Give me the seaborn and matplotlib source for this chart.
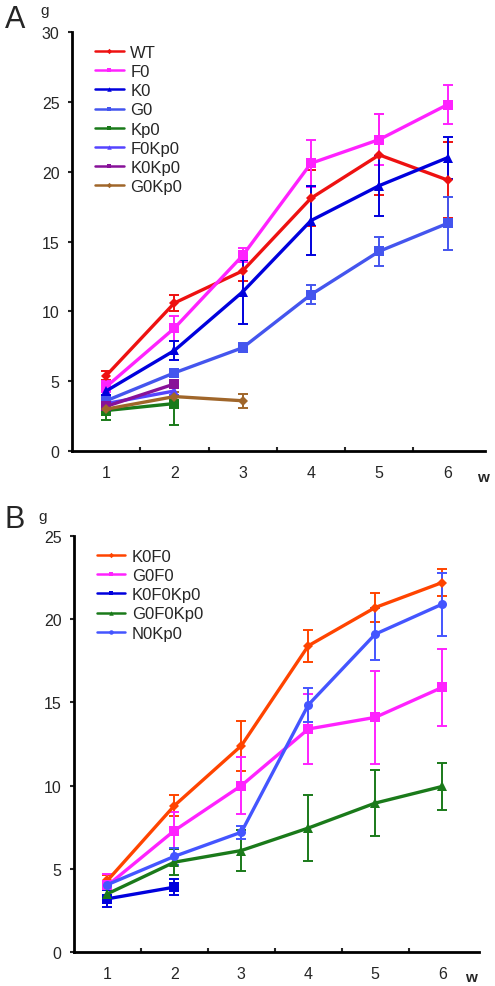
import seaborn as sns
import matplotlib.pyplot as plt
from matplotlib.ticker import MultipleLocator, FixedLocator
import pandas as pd

weeks = [1, 2, 3, 4, 5, 6]

# panel A: body weight (g) per week
a_names = ['WT', 'F0', 'K0', 'G0', 'Kp0', 'F0Kp0', 'K0Kp0', 'G0Kp0']
a_means = [
    [5.4, 10.6, 12.9, 18.1, 21.2, 19.4],
    [4.6, 8.8, 14.0, 20.6, 22.3, 24.8],
    [4.3, 7.2, 11.4, 16.5, 19.0, 21.0],
    [3.6, 5.6, 7.4, 11.2, 14.3, 16.3],
    [2.9, 3.4],
    [3.4, 4.3],
    [3.2, 4.8],
    [3.0, 3.9, 3.6],
]
a_errs = [
    [0.3, 0.6, 0.7, 2.0, 2.9, 2.7],
    [0.4, 0.9, 0.5, 1.7, 1.8, 1.4],
    [0.3, 0.7, 2.3, 2.45, 2.15, 1.5],
    [0.3, 0.3, 0.3, 0.7, 1.05, 1.9],
    [0.65, 1.55],
    [0.2, 0.3],
    [0.3, 0.3],
    [0.2, 0.3, 0.5],
]
a_colors = ['#ee1111', '#ff22ff', '#0000dd', '#4455ee', '#1a7a1a', '#5544ff', '#881199', '#a0662a']
a_markers = ['D', 's', '^', 's', 's', '^', 's', 'D']

# panel B
b_names = ['K0F0', 'G0F0', 'K0F0Kp0', 'G0F0Kp0', 'N0Kp0']
b_means = [
    [4.3, 8.8, 12.4, 18.4, 20.7, 22.2],
    [4.0, 7.3, 10.0, 13.4, 14.1, 15.9],
    [3.2, 3.9],
    [3.5, 5.4, 6.1, 7.45, 8.95, 9.95],
    [4.05, 5.75, 7.2, 14.85, 19.1, 20.9],
]
b_errs = [
    [0.3, 0.65, 1.5, 0.95, 0.9, 0.8],
    [0.7, 1.1, 1.7, 2.1, 2.8, 2.3],
    [0.5, 0.5],
    [0.3, 0.8, 1.25, 2.0, 2.0, 1.4],
    [0.2, 0.5, 0.4, 1.0, 1.55, 1.9],
]
b_colors = ['#ff4400', '#ff22ff', '#0000dd', '#1a7a1a', '#4455ff']
b_markers = ['D', 's', 's', '^', 'o']

sns.set_style('white')
plt.rcParams['font.family'] = ['Liberation Sans', 'DejaVu Sans']

fig = plt.figure(figsize=(4.95, 9.87), dpi=100)
axA = fig.add_axes([0.1455, 0.542, 0.8345, 0.4246])
axB = fig.add_axes([0.1495, 0.0344, 0.8182, 0.4216])


def draw(ax, names, means, errs, colors, markers, ymax):
    for name, m, e, c, mk in zip(names, means, errs, colors, markers):
        df = pd.DataFrame({'week': weeks[:len(m)], 'g': m})
        ax.errorbar(df['week'], df['g'], yerr=e, fmt='none', ecolor=c,
                    elinewidth=1.4, capsize=3.8, capthick=1.4, zorder=2)
        sns.lineplot(data=df, x='week', y='g', ax=ax, color=c, marker=mk,
                     markersize=6.5 if mk != 'D' else 5.5, markeredgewidth=0,
                     linewidth=2.4, label=name, zorder=3)
    ax.set_xlim(0.5, 6.55)
    ax.set_ylim(0, ymax)
    ax.set_xlabel('')
    ax.set_ylabel('')
    ax.xaxis.set_major_locator(FixedLocator(weeks))
    ax.xaxis.set_minor_locator(FixedLocator([1.5, 2.5, 3.5, 4.5, 5.5]))
    ax.yaxis.set_major_locator(MultipleLocator(5))
    ax.tick_params(axis='x', which='major', length=0, labelsize=11.5, pad=10)
    ax.tick_params(axis='x', which='minor', length=3, width=1.5, direction='in', bottom=True)
    ax.tick_params(axis='y', length=3, width=1.5, direction='out', left=True, labelsize=11.5, pad=6)
    for s in ['top', 'right']:
        ax.spines[s].set_visible(False)
    for s in ['left', 'bottom']:
        ax.spines[s].set_linewidth(2)
        ax.spines[s].set_color('black')
    leg = ax.legend(loc='upper left', frameon=False, fontsize=12, handlelength=1.7,
                    handletextpad=0.4, labelspacing=0.25, markerscale=0.5,
                    bbox_to_anchor=(0.04, 0.985), borderaxespad=0)
    for line in leg.get_lines():
        line.set_linewidth(1.8)


draw(axA, a_names, a_means, a_errs, a_colors, a_markers, 30)
draw(axB, b_names, b_means, b_errs, b_colors, b_markers, 25)

fig.text(0.01, 1 - 20 / 987, 'A', fontsize=22, va='center', ha='left')
fig.text(0.082, 1 - 11 / 987, 'g', fontsize=11, va='center', ha='left')
fig.text(0.976, 1 - 478 / 987, 'w', fontsize=11, va='center', ha='center', fontweight='bold')
fig.text(0.01, 1 - 520 / 987, 'B', fontsize=22, va='center', ha='left')
fig.text(0.077, 1 - 517 / 987, 'g', fontsize=11, va='center', ha='left')
fig.text(0.952, 1 - 978 / 987, 'w', fontsize=11, va='center', ha='center', fontweight='bold')

fig.savefig('out.png', dpi=100)
